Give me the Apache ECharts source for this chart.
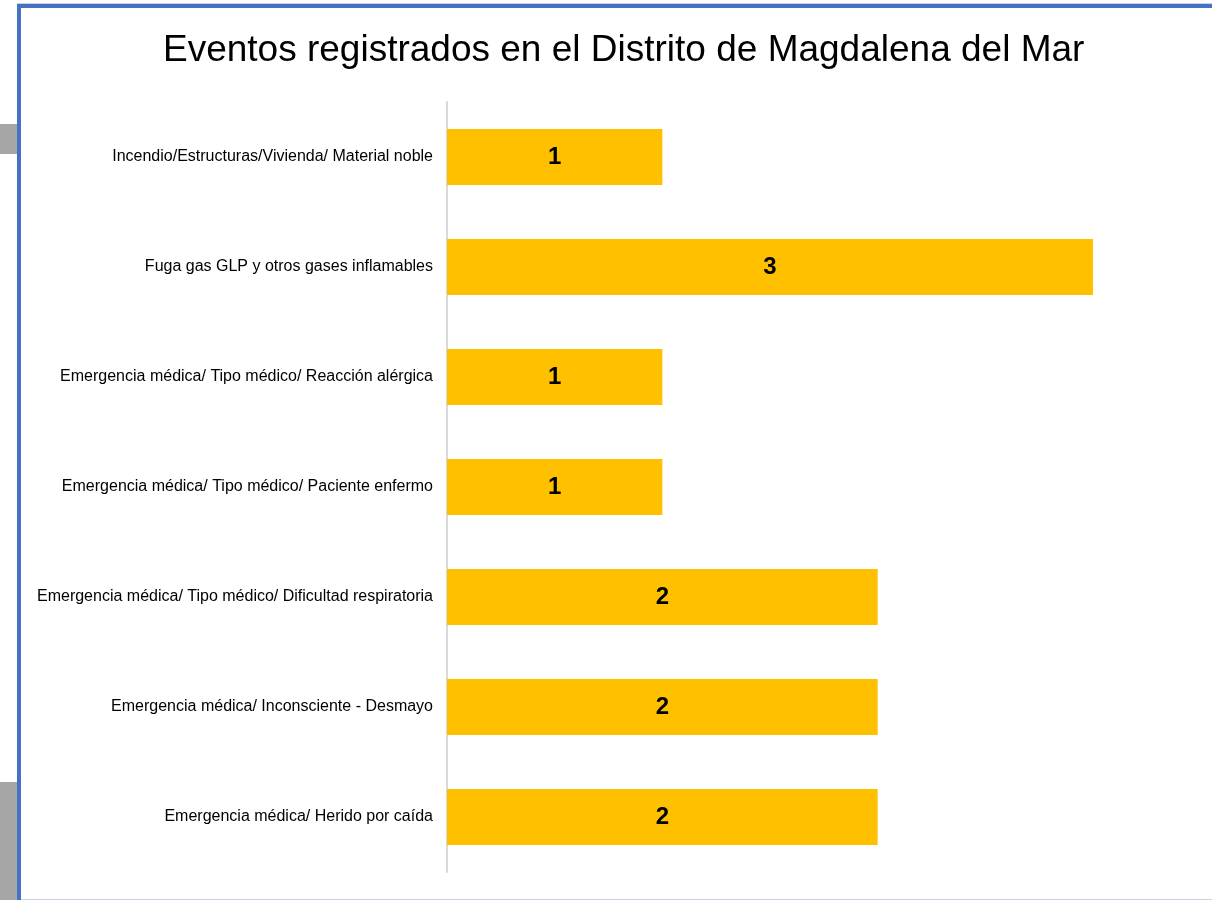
<!DOCTYPE html>
<html>
<head>
<meta charset="utf-8">
<script src="https://cdn.jsdelivr.net/npm/echarts@6/dist/echarts.min.js"></script>
<style>
  html, body { margin: 0; padding: 0; background: #fff; }
  #main { width: 1212px; height: 900px; }
</style>
</head>
<body>
<div id="main"></div>
<script>
const titleText = 'Eventos registrados en el Distrito de Magdalena del Mar';
const categories = [
  'Incendio/Estructuras/Vivienda/ Material noble',
  'Fuga gas GLP y otros gases inflamables',
  'Emergencia médica/ Tipo médico/ Reacción alérgica',
  'Emergencia médica/ Tipo médico/ Paciente enfermo',
  'Emergencia médica/ Tipo médico/ Dificultad respiratoria',
  'Emergencia médica/ Inconsciente - Desmayo',
  'Emergencia médica/ Herido por caída'
];
const counts = [1, 3, 1, 1, 2, 2, 2];

const chart = echarts.init(document.getElementById('main'));
chart.setOption({
  backgroundColor: '#fff',
  animation: false,
  title: {
    text: titleText,
    left: 158,
    top: 27,
    textStyle: {
      fontFamily: 'Liberation Sans',
      fontSize: 37,
      fontWeight: 'normal',
      color: '#000'
    }
  },
  graphic: [
    { type: 'rect', shape: { x: 0, y: 124, width: 17, height: 30 }, style: { fill: '#a6a6a6' } },
    { type: 'rect', shape: { x: 0, y: 782, width: 17, height: 118 }, style: { fill: '#a6a6a6' } },
    { type: 'rect', shape: { x: 17, y: 3, width: 1200, height: 1 }, style: { fill: '#c9d3e8' } },
    { type: 'rect', shape: { x: 17, y: 4, width: 1200, height: 4 }, style: { fill: '#4472c4' } },
    { type: 'rect', shape: { x: 17, y: 4, width: 4, height: 900 }, style: { fill: '#4472c4' } },
    { type: 'rect', shape: { x: 21, y: 899, width: 1200, height: 1 }, style: { fill: '#c9d3e8' } }
  ],
  grid: {
    left: 447,
    top: 102,
    width: 646,
    height: 770,
    containLabel: false
  },
  xAxis: {
    type: 'value',
    min: 0,
    max: 3,
    show: false
  },
  yAxis: {
    type: 'category',
    inverse: true,
    data: categories,
    axisLine: { show: true, lineStyle: { color: '#d9d9d9', width: 2 } },
    axisTick: { show: false },
    axisLabel: {
      margin: 14,
      fontFamily: 'Liberation Sans',
      fontSize: 16,
      color: '#000'
    }
  },
  series: [{
    type: 'bar',
    data: counts,
    barWidth: 56,
    itemStyle: { color: '#ffc000' },
    label: {
      show: true,
      position: 'inside',
      fontFamily: 'Liberation Sans',
      fontSize: 24,
      fontWeight: 'bold',
      color: '#000'
    }
  }]
});
</script>
</body>
</html>
